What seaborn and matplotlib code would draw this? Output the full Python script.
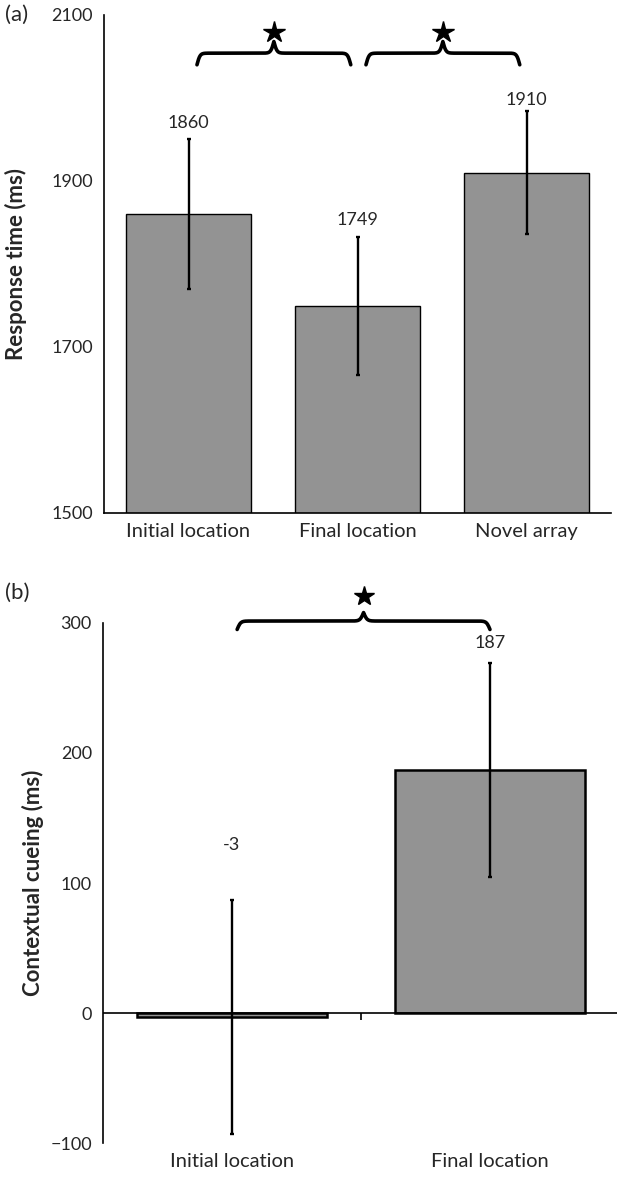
import numpy as np
import pandas as pd
import matplotlib
matplotlib.use('Agg')
import matplotlib.pyplot as plt
import seaborn as sns

# (a) response times per condition
rt_conditions = ['Initial location', 'Final location', 'Novel array']
rt_means = [1860, 1749, 1910]
rt_errors = [90, 83, 74]
rt_pairs = [(0, 1), (1, 2)]          # significant comparisons

# (b) contextual cueing
cc_conditions = ['Initial location', 'Final location']
cc_means = [-3, 187]
cc_errors = [90, 82]
cc_pairs = [(0, 1)]

sns.set_style('white')
plt.rcParams['font.family'] = ['Lato', 'DejaVu Sans']

bar_color = '#939393'
num_fs = 13
cat_fs = 14.5
lab_fs = 16


def brace(ax, x0, x1, y, h, star_y, beta=110, ms=16):
    xs = np.linspace(x0, x1, 401)
    half = xs[:201]
    yh = 1 / (1 + np.exp(-beta * (half - half[0]))) + 1 / (1 + np.exp(-beta * (half - half[-1])))
    yy = np.concatenate([yh, yh[-2::-1]])
    ax.plot(xs, y + (yy - 0.5) * h, color='black', lw=2.6, clip_on=False,
            solid_capstyle='round', solid_joinstyle='round')
    ax.plot((x0 + x1) / 2, star_y, marker='*', color='black', ms=ms, clip_on=False)


def bars(ax, conds, means, errs, lw):
    sns.barplot(x=conds, y=means, color=bar_color, saturation=1, width=0.74,
                edgecolor='black', linewidth=lw, errorbar=None, ax=ax)
    ax.errorbar(np.arange(len(conds)), means, yerr=errs, fmt='none', ecolor='black',
                elinewidth=1.7, capsize=1.5, capthick=1.7)
    ax.set_xlim(-0.5, len(conds) - 0.5)
    for s in ['top', 'right']:
        ax.spines[s].set_visible(False)
    for s in ['left', 'bottom']:
        ax.spines[s].set_color('black')
        ax.spines[s].set_linewidth(1.2)
    ax.tick_params(axis='y', direction='out', length=5, width=1.2, color='black',
                   labelsize=num_fs, pad=3)
    ax.tick_params(axis='x', which='major', length=0, labelsize=cat_fs, pad=7)


fig = plt.figure(figsize=(6.17, 11.79), dpi=100)
ax1 = fig.add_axes([0.1686, 0.5649, 0.8217, 0.4224])
ax2 = fig.add_axes([0.1669, 0.0305, 0.8363, 0.4411])

# ---- panel (a)
bars(ax1, rt_conditions, rt_means, rt_errors, 1.0)
ax1.set_ylim(1500, 2100)
ax1.set_yticks(np.arange(1500, 2101, 200))
ax1.set_xticks(np.arange(len(rt_conditions) + 1) - 0.5, minor=True)
ax1.tick_params(axis='x', which='minor', direction='out', length=6, width=1.2, color='black')
ax1.set_ylabel('Response time (ms)', fontsize=lab_fs, fontweight='bold')
ax1.yaxis.set_label_coords(-0.152, 0.5)
for i, (m, e, off) in enumerate(zip(rt_means, rt_errors, [6, 6.5, 2.5])):
    ax1.annotate(str(m), (i, m + e), xytext=(0, off), textcoords='offset points',
                 ha='center', va='bottom', fontsize=num_fs)
for i, j in rt_pairs:
    brace(ax1, i + 0.05, j - 0.04, 2040, 28, 2080)
fig.text(0.008, 1 - 15 / 1179, '(a)', fontsize=16, va='center', ha='left')

# ---- panel (b)
bars(ax2, cc_conditions, cc_means, cc_errors, 1.8)
ax2.set_ylim(-100, 300)
ax2.set_yticks(np.arange(-100, 301, 100))
ax2.spines['bottom'].set_visible(False)
ax2.axhline(0, color='black', lw=1.2)
ax2.vlines(np.arange(1, len(cc_conditions)) - 0.5, -5, 0, color='black', lw=1.2)
ax2.set_ylabel('Contextual cueing (ms)', fontsize=lab_fs, fontweight='bold')
ax2.yaxis.set_label_coords(-0.114, 0.5)
for i, (m, e, off) in enumerate(zip(cc_means, cc_errors, [34, 9])):
    ax2.annotate(str(m), (i, m + e), xytext=(0, off), textcoords='offset points',
                 ha='center', va='bottom', fontsize=num_fs)
for i, j in cc_pairs:
    brace(ax2, i + 0.02, j, 295, 13, 321, beta=150, ms=15)
fig.text(0.008, 1 - 593 / 1179, '(b)', fontsize=16, va='center', ha='left')

fig.savefig('out.png', dpi=100)
